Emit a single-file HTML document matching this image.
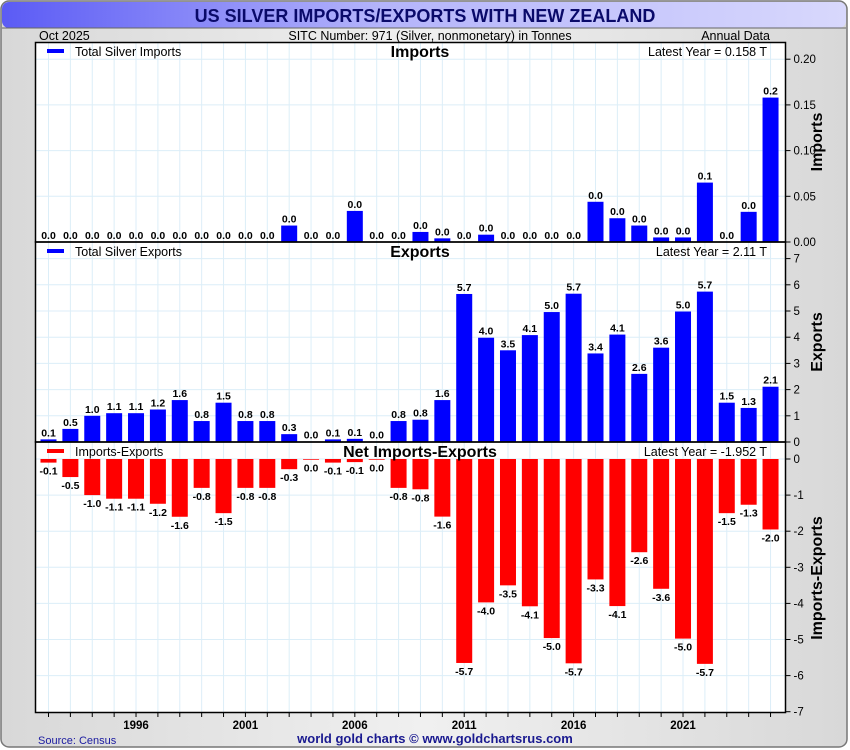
<!DOCTYPE html>
<html><head><meta charset="utf-8"><style>
body{margin:0;background:#fff;}
svg{display:block;font-family:"Liberation Sans",sans-serif;}
</style></head><body>
<svg id="c" width="850" height="750" viewBox="0 0 850 750">
<defs><linearGradient id="tg" x1="0" x2="1"><stop offset="0" stop-color="#5b5bf5"/><stop offset="0.45" stop-color="#b4b4fb"/><stop offset="1" stop-color="#d8d8fc"/></linearGradient>
<linearGradient id="bg" x1="0" x2="1"><stop offset="0" stop-color="#d8d8d8"/><stop offset="0.5" stop-color="#f0f0f0"/><stop offset="1" stop-color="#d8d8d8"/></linearGradient></defs>
<rect x="1" y="1" width="846" height="746" rx="8" fill="url(#bg)" stroke="#777" stroke-width="1.5"/>
<rect x="2" y="2" width="844" height="26" rx="7" fill="url(#tg)"/>
<line x1="2" y1="28" x2="846" y2="28" stroke="#666"/>
<text x="425" y="22" text-anchor="middle" font-size="18" font-weight="bold" fill="#0a0a6a">US SILVER IMPORTS/EXPORTS WITH NEW ZEALAND</text>
<text x="39" y="40" font-size="12.5" fill="#000">Oct  2025</text>
<text x="430" y="40" font-size="12.5" text-anchor="middle">SITC Number: 971 (Silver, nonmonetary) in Tonnes</text>
<text x="770" y="40" font-size="12.5" text-anchor="end">Annual Data</text>
<rect x="35.5" y="42.5" width="750" height="670" fill="#fff"/>
<g id="grid"></g><g id="marks"></g><g id="axes"></g>
<text x="38" y="744" font-size="11" fill="#1a1aa0">Source: Census</text>
<text x="435" y="743" font-size="13" font-weight="bold" fill="#1a1a90" text-anchor="middle">world gold charts © www.goldchartsrus.com</text>
</svg>
<script>
const years=[1992,1993,1994,1995,1996,1997,1998,1999,2000,2001,2002,2003,2004,2005,2006,2007,2008,2009,2010,2011,2012,2013,2014,2015,2016,2017,2018,2019,2020,2021,2022,2023,2024,2025];
const imports=[0,0,0,0,0,0,0,0,0,0,0,0.018,0,0,0.034,0,0,0.011,0.004,0,0.008,0,0,0,0,0.044,0.026,0.018,0.005,0.005,0.065,0,0.033,0.158];
const exportsV=[0.1,0.5,1.0,1.1,1.1,1.24,1.6,0.8,1.5,0.8,0.8,0.3,0.02,0.1,0.12,0.02,0.8,0.85,1.6,5.65,3.98,3.5,4.08,4.96,5.66,3.38,4.1,2.6,3.6,4.98,5.74,1.5,1.3,2.11];
const impTicks=[0,0.05,0.10,0.15,0.20];
const expTicks=[0,1,2,3,4,5,6,7];
const netTicks=[0,-1,-2,-3,-4,-5,-6,-7];
const yearLabels=[1996,2001,2006,2011,2016,2021];
const NS="http://www.w3.org/2000/svg";
const L=35.5,R=785.5;
const x=y=>48.5+(y-1992)*21.88;
const yImp=v=>242-v/0.05*45.7;
const yExp=v=>442-v*26.2;
const yNet=v=>459-v*36.1;
function mk(p,t,a){const e=document.createElementNS(NS,t);for(const k in a)e.setAttribute(k,a[k]);document.getElementById(p).appendChild(e);return e;}
years.forEach(y=>{const g=mk('grid','line',{x1:x(y),x2:x(y),y1:42.5,y2:712.5,stroke:'#dceef8'});

});
function panel(ticks,sc,fmt,top,bot){ticks.forEach(t=>{const yy=sc(t);
if(yy>top+1&&yy<bot-1){const g=mk('grid','line',{x1:L,x2:R,y1:yy,y2:yy,stroke:'#dceef8'});

}
const tk=mk('axes','line',{x1:R,x2:R+5,y1:yy,y2:yy,stroke:'#000'});


const tx=mk('axes','text',{x:R+8,y:yy+4,'font-size':11.5});tx.textContent=fmt(t);

});}
panel(impTicks,yImp,v=>v.toFixed(2),42,242);
panel(expTicks,yExp,v=>String(v),242,442);
panel(netTicks,yNet,v=>String(v),442,712);
function bars(vals,sc,color,name){vals.forEach((v,i)=>{const y0=sc(0),y1=sc(v);
const r=mk('marks','rect',{x:x(years[i])-8,y:Math.min(y0,y1),width:16,height:Math.max(Math.abs(y1-y0),0.01),fill:color});


let lbl=v.toFixed(1);if(lbl==='-0.0')lbl='0.0';
const t=mk('marks','text',{x:x(years[i]),y:v<0?y1+12:y1-3,'font-size':10.5,'font-weight':'bold','text-anchor':'middle'});t.textContent=lbl;

});}
bars(imports,yImp,'#0000ff','imports');
bars(exportsV,yExp,'#0000ff','exports');
const net=imports.map((v,i)=>v-exportsV[i]);
bars(net,yNet,'#ff0000','net');
[[42.5,242],[242,442],[442,712.5]].forEach(([a,b])=>{const r=mk('axes','rect',{x:L,y:a,width:R-L,height:b-a,fill:'none',stroke:'#000','stroke-width':1.5});

});
years.forEach(y=>{const t=mk('axes','line',{x1:x(y),x2:x(y),y1:712.5,y2:717,stroke:'#000'});

});
yearLabels.forEach(y=>{const t=mk('axes','text',{x:x(y),y:729,'font-size':11.5,'font-weight':'bold','text-anchor':'middle'});t.textContent=y;

});
function head(yTop,legend,col,title,latest,axisTitle,ayc){
const l=mk('axes','rect',{x:47,y:yTop+7,width:17,height:4,fill:col});


const lt=mk('axes','text',{x:75,y:yTop+14,'font-size':12.5});lt.textContent=legend;


const tt=mk('axes','text',{x:420,y:yTop+15,'font-size':16,'font-weight':'bold','text-anchor':'middle'});tt.textContent=title;


const la=mk('axes','text',{x:767,y:yTop+14,'font-size':12.5,'text-anchor':'end'});la.textContent=latest;


const at=mk('axes','text',{x:0,y:0,'font-size':16,'font-weight':'bold','text-anchor':'middle',transform:'translate(822,'+ayc+') rotate(-90)'});at.textContent=axisTitle;

}
head(42,'Total Silver Imports','#0000ff','Imports','Latest Year = 0.158 T','Imports',142);
head(242,'Total Silver Exports','#0000ff','Exports','Latest Year = 2.11 T','Exports',342);
head(442,'Imports-Exports','#ff0000','Net Imports-Exports','Latest Year = -1.952 T','Imports-Exports',578);
</script>
</body></html>
